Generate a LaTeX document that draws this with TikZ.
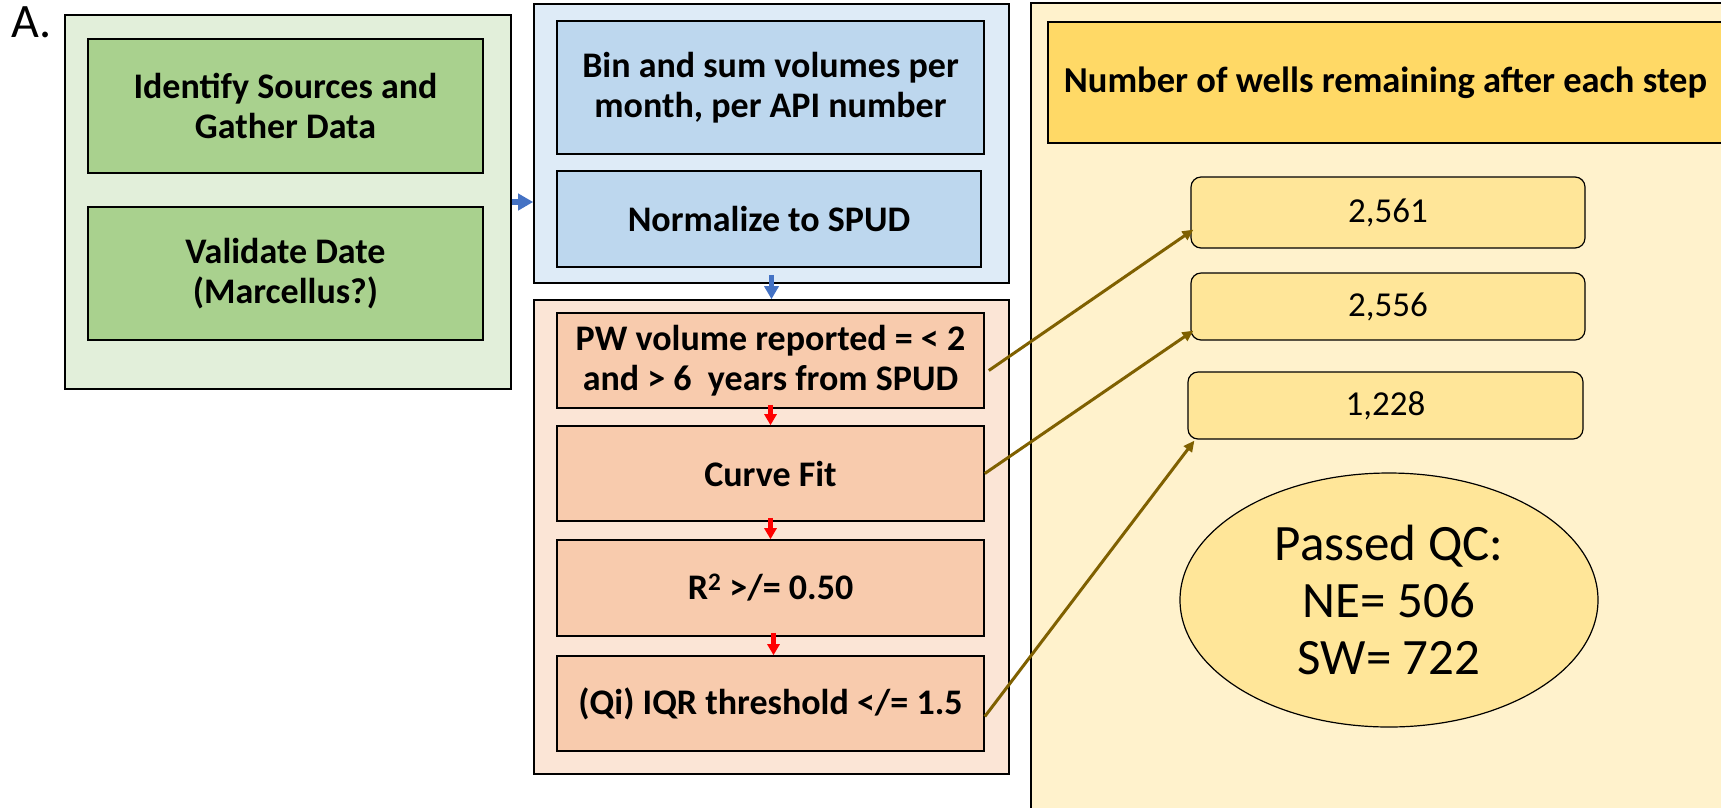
\documentclass[tikz,border=0pt]{standalone}
\usepackage{fontspec}
\setmainfont{Carlito}
\usetikzlibrary{arrows.meta,shapes.geometric}
\definecolor{gOut}{HTML}{E2EFDA}
\definecolor{gIn}{HTML}{A9D18E}
\definecolor{bOut}{HTML}{DEEBF7}
\definecolor{bIn}{HTML}{BDD7EE}
\definecolor{oOut}{HTML}{FBE5D6}
\definecolor{oIn}{HTML}{F8CBAD}
\definecolor{yOut}{HTML}{FFF2CC}
\definecolor{yHead}{HTML}{FFD966}
\definecolor{yNum}{HTML}{FFE699}
\definecolor{brownArr}{HTML}{7F6000}
\definecolor{blueArr}{HTML}{4472C4}
\definecolor{redArr}{HTML}{FF0000}
\begin{document}
\begin{tikzpicture}[x=1pt,y=-1pt,
  outerbox/.style={draw=black, line width=1.6pt, inner sep=0pt},
  stepbox/.style={draw=black, line width=1.6pt, inner sep=0pt, align=center,
    minimum width=427pt, font=\bfseries\fontsize{36}{40}\selectfont},
  numbox/.style={draw=black, line width=1.2pt, rounded corners=10pt, fill=yNum,
    inner sep=0pt, font=\fontsize{35}{40}\selectfont},
  brownarrow/.style={draw=brownArr, line width=3pt, -{Triangle[length=11pt,width=10pt]}},
  bluearrow/.style={draw=blueArr, line width=6pt, -{Triangle[length=15pt,width=16pt]}},
  bluedown/.style={draw=blueArr, line width=5pt, -{Triangle[length=13pt,width=14pt]}},
  redarrow/.style={draw=redArr, line width=4.5pt, -{Triangle[length=11pt,width=12pt]}}
]
\path[use as bounding box] (0,0) rectangle (1721,807);
\clip (0,0) rectangle (1721,807);

% label
\node[anchor=base west, inner sep=0pt, font=\fontsize{48}{52}\selectfont] (lab) at (11,37) {A.};

% green group
\node[outerbox, fill=gOut, minimum width=446pt, minimum height=374pt] (g) at (288,202) {};
\node[stepbox, fill=gIn, minimum width=395pt, minimum height=134pt] (g1) at (285.5,106) {Identify Sources and\\Gather Data};
\node[stepbox, fill=gIn, minimum width=395pt, minimum height=133pt] (g2) at (285.5,273.5) {Validate Date\\(Marcellus?)};

% blue group
\node[outerbox, fill=bOut, minimum width=475pt, minimum height=279pt] (b) at (771.5,143.5) {};
\node[stepbox, fill=bIn, minimum height=133pt] (b1) at (770.5,87.5) {Bin and sum volumes per\\month, per API number};
\node[stepbox, fill=bIn, minimum width=424pt, minimum height=96pt] (b2) at (769,219) {Normalize to SPUD};

% orange group
\node[outerbox, fill=oOut, minimum width=475pt, minimum height=474pt] (o) at (771.5,537) {};
\node[stepbox, fill=oIn, minimum height=95pt] (o1) at (770.5,360.5) {PW volume reported = < 2\\and > 6\ \ years from SPUD};
\node[stepbox, fill=oIn, minimum height=95pt] (o2) at (770.5,473.5) {Curve Fit};
\node[stepbox, fill=oIn, minimum height=96pt] (o3) at (770.5,588) {R\textsuperscript{2} >/= 0.50};
\node[stepbox, fill=oIn, minimum height=95pt] (o4) at (770.5,703.5) {(Qi) IQR threshold </= 1.5};

% yellow panel
\node[outerbox, fill=yOut, minimum width=709pt, minimum height=827pt] (y) at (1385.5,416.5) {};
\node[draw=black, line width=1.4pt, fill=yHead, inner sep=0pt, minimum width=687pt, minimum height=121pt,
  font=\bfseries\fontsize{36.5}{40}\selectfont] (hd) at (1391.5,82.5) {Number of wells remaining after each step\hspace*{12pt}};
\node[numbox, minimum width=394pt, minimum height=71pt] (n1) at (1388,212.5) {2,561};
\node[numbox, minimum width=394pt, minimum height=67pt] (n2) at (1388,306.5) {2,556};
\node[numbox, minimum width=395pt, minimum height=67pt] (n3) at (1385.5,405.5) {1,228};
\node[ellipse, draw=black, line width=1.2pt, fill=yNum, inner sep=0pt, minimum width=418pt, minimum height=254pt,
  align=center, font=\fontsize{51}{57}\selectfont] (qc) at (1389,600) {Passed QC:\\NE= 506\\SW= 722};

% connectors
\draw[bluearrow] (g.east) -- (g.east -| b.west);
\draw[bluedown] ([yshift=9pt]b.south) -- (o.north);
\draw[redarrow] ([yshift=4pt]o1.south) -- (o2.north);
\draw[redarrow] ([yshift=4pt]o2.south) -- (o3.north);
\draw[redarrow] ([xshift=3pt,yshift=4pt]o3.south) -- ([xshift=3pt]o4.north);

\draw[brownarrow] ([xshift=4pt,yshift=-10pt]o1.east) -- ([xshift=3pt,yshift=19pt]n1.south west);
\draw[brownarrow] (o2.east) -- ([xshift=3pt,yshift=10pt]n2.south west);
\draw[brownarrow] ([yshift=-13pt]o4.east) -- ([xshift=7pt,yshift=-1pt]n3.south west);
\end{tikzpicture}
\end{document}
